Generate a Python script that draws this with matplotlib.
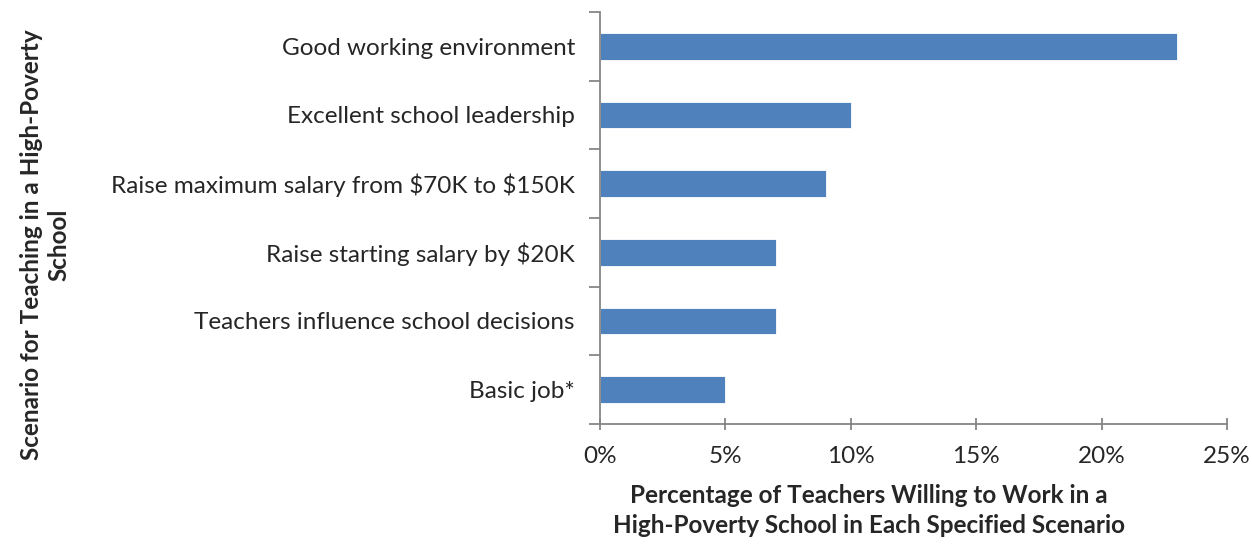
import numpy as np
import matplotlib.pyplot as plt
from matplotlib.ticker import FixedLocator

# data, top to bottom as shown in the chart
scenarios = ["Good working environment",
             "Excellent school leadership",
             "Raise maximum salary from \\$70K to \\$150K",
             "Raise starting salary by \\$20K",
             "Teachers influence school decisions",
             "Basic job*"]
percent = [23, 10, 9, 7, 7, 5]
xticks = [0, 5, 10, 15, 20, 25]
xlabels = ["0%", "5%", "10%", "15%", "20%", "25%"]

plt.rcParams['font.family'] = ['Lato', 'DejaVu Sans']

fig = plt.figure(figsize=(12.52, 5.44), dpi=100)
ax = fig.add_axes([0.4792, 0.2206, 0.5008, 0.7574])

ypos = np.arange(len(scenarios))[::-1]
ax.barh(ypos, percent, height=0.39, color="#4F81BD", edgecolor="white", linewidth=0.6)

ax.set_xlim(0, 25)
ax.set_ylim(-0.5, len(scenarios) - 0.5)
ax.set_xticks(xticks)
ax.set_xticklabels(xlabels, fontsize=17.5, color="#262626")
ax.set_yticks(ypos)
ax.set_yticklabels(scenarios, fontsize=17.5, color="#262626")

# category separators on the y axis (Excel style)
ax.yaxis.set_minor_locator(FixedLocator(np.arange(-0.5, len(scenarios), 1.0)))
ax.tick_params(axis="y", which="major", length=0, pad=18)
ax.tick_params(axis="y", which="minor", length=8, width=1.3, color="#868686")
ax.tick_params(axis="x", length=8, width=1.3, color="#868686", pad=12, direction="inout")

for side in ["top", "right"]:
    ax.spines[side].set_visible(False)
for side in ["left", "bottom"]:
    ax.spines[side].set_color("#868686")
    ax.spines[side].set_linewidth(1.3)

fig.text(0.694, 0.012, "Percentage of Teachers Willing to Work in a\nHigh-Poverty School in Each Specified Scenario",
         ha="center", va="bottom", fontsize=17.5, fontweight="bold", color="#262626", linespacing=1.4)
fig.text(0.036, 0.55, "Scenario for Teaching in a High-Poverty\nSchool",
         ha="center", va="center", rotation=90, fontsize=17.5, fontweight="bold", color="#262626",
         linespacing=1.25)

plt.savefig("out.png")
